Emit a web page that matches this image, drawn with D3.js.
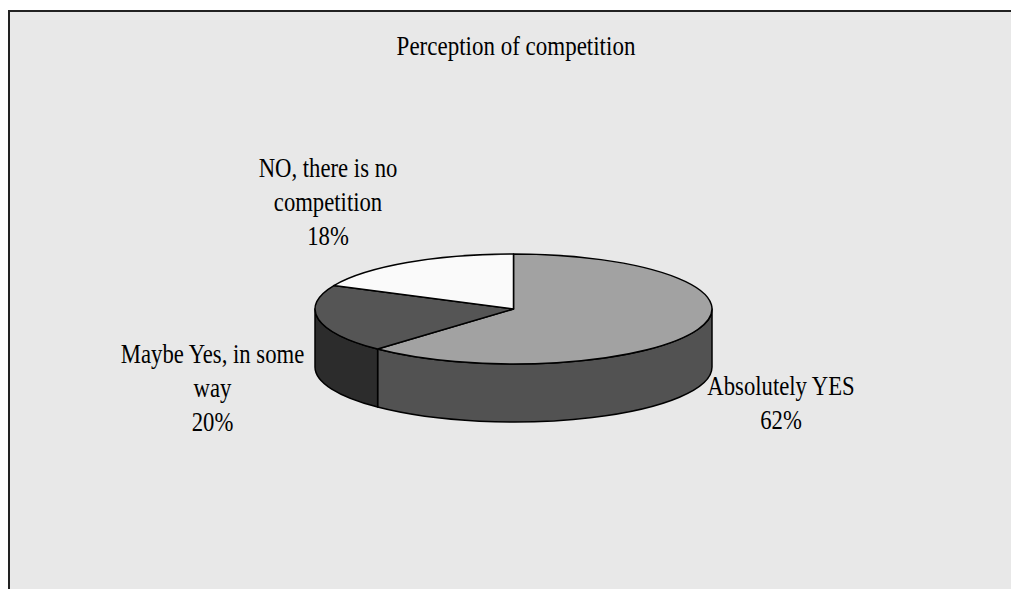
<!DOCTYPE html>
<html>
<head>
<meta charset="utf-8">
<script src="https://cdn.jsdelivr.net/npm/d3@7"></script>
<style>
  html, body { margin: 0; padding: 0; background: #ffffff; }
  svg { display: block; }
  text { font-family: "Liberation Serif", "Times New Roman", serif; fill: #000; }
</style>
</head>
<body>
<svg id="chart" width="1011" height="589"></svg>
<script>
// Survey answers and their shares (%)
const categories = ["Absolutely YES", "Maybe Yes, in some way", "NO, there is no competition"];
const values = [62, 20, 18];
const labelLines = [["Absolutely YES"], ["Maybe Yes, in some", "way"], ["NO, there is no", "competition"]];
const topColors = ["#a2a2a2", "#555555", "#fafafa"];
const sideColors = ["#525252", "#2c2c2c", "#c8c8c8"];
const title = "Perception of competition";

const W = 1011, H = 589;
const svg = d3.select("#chart");

// Glyphs are drawn slightly stretched vertically
const textStretch = 1.2;

// Chart area with its frame (extends past the right and bottom edges)
svg.append("rect")
  .attr("x", 9).attr("y", 11)
  .attr("width", W + 20).attr("height", H + 20)
  .attr("fill", "#e8e8e8")
  .attr("stroke", "#222").attr("stroke-width", 2);

svg.append("text")
  .attr("transform", `translate(516,55) scale(1,${textStretch})`)
  .attr("text-anchor", "middle")
  .attr("font-size", 23)
  .text(title);

// 3D pie geometry: tilted ellipse plus a wall of given depth
const cx = 513.5, cy = 309, rx = 198.5, ry = 55, depth = 58;
const px = a => cx + rx * Math.sin(a);
const py = a => cy - ry * Math.cos(a);

const pie = d3.pie().sort(null).startAngle(0).endAngle(2 * Math.PI);
const arcs = pie(values);

const g = svg.append("g");

// Front walls: only the part of each slice between 90° and 270° faces the viewer
const frontStart = Math.PI / 2, frontEnd = 3 * Math.PI / 2;
arcs.forEach((d, i) => {
  const s = Math.max(d.startAngle, frontStart);
  const e = Math.min(d.endAngle, frontEnd);
  if (e <= s) return;
  const path = `M${px(s)},${py(s)} A${rx},${ry} 0 0 1 ${px(e)},${py(e)} ` +
    `L${px(e)},${py(e) + depth} A${rx},${ry} 0 0 0 ${px(s)},${py(s) + depth} Z`;
  g.append("path")
    .attr("d", path)
    .attr("fill", sideColors[i])
    .attr("stroke", "#000")
    .attr("stroke-width", 1.5)
    .attr("stroke-linejoin", "round");
});

// Top faces
arcs.forEach((d, i) => {
  const a0 = d.startAngle, a1 = d.endAngle;
  const large = (a1 - a0) > Math.PI ? 1 : 0;
  const path = `M${cx},${cy} L${px(a0)},${py(a0)} ` +
    `A${rx},${ry} 0 ${large} 1 ${px(a1)},${py(a1)} Z`;
  g.append("path")
    .attr("d", path)
    .attr("fill", topColors[i])
    .attr("stroke", "#000")
    .attr("stroke-width", 1.5)
    .attr("stroke-linejoin", "round");
});

// Data labels: category lines followed by the percentage
const labelAnchor = {
  "Absolutely YES": [781, 395],
  "Maybe Yes, in some way": [212.5, 363],
  "NO, there is no competition": [328, 177]
};
const lineStep = 34;
categories.forEach((c, i) => {
  const [lx, ly] = labelAnchor[c];
  const t = svg.append("text")
    .attr("transform", `translate(${lx},${ly}) scale(1,${textStretch})`)
    .attr("text-anchor", "middle")
    .attr("font-size", 22.7);
  const lines = labelLines[i].concat([values[i] + "%"]);
  lines.forEach((ln, k) => {
    t.append("tspan").attr("x", 0).attr("y", k * lineStep / textStretch).text(ln);
  });
});
</script>
</body>
</html>
